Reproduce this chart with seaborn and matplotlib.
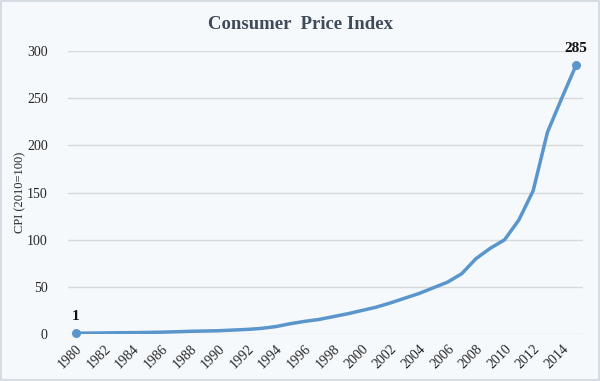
import numpy as np
import pandas as pd
import matplotlib
matplotlib.use("Agg")
import matplotlib.pyplot as plt
import seaborn as sns
from matplotlib.patches import Rectangle

## data
years = list(range(1980, 2016))
cpi = [1, 1.1, 1.3, 1.5, 1.6, 1.8, 2.1, 2.5, 3.0, 3.3,
       3.6, 4.3, 5.0, 6.1, 8.0, 11, 13.5, 15.5, 18.5, 21.5,
       25, 28.5, 33, 38, 43, 49, 55, 64, 80, 91,
       100, 121, 152, 214, 250, 285]
end_labels = ["1", "285"]
tick_years = list(range(1980, 2015, 2))
title = "Consumer  Price Index"
ylabel = "CPI (2010=100)"

df = pd.DataFrame({"year": years, "cpi": cpi})

# style
sns.set_theme(style="white")
plt.rcParams["font.family"] = ["Liberation Serif", "DejaVu Serif"]
bg = "#f5f9fc"
line_color = "#5a96cc"
grid_color = "#d9d9d9"
text_color = "#262626"

fig = plt.figure(figsize=(6, 3.81), dpi=100, facecolor=bg)
ax = fig.add_axes([0.113, 0.123, 0.859, 0.743])
ax.set_facecolor(bg)

sns.lineplot(data=df, x="year", y="cpi", ax=ax, color=line_color, linewidth=2.5)

# markers + labels on the first and last points
ends = df.iloc[[0, -1]]
ax.scatter(ends["year"], ends["cpi"], s=30, color=line_color, zorder=3, clip_on=False)
for (_, row), lab in zip(ends.iterrows(), end_labels):
    ax.annotate(lab, (row["year"], row["cpi"]), xytext=(0, 7), textcoords="offset points",
                ha="center", va="bottom", fontsize=11, fontweight="bold", color="#111111")

ax.set_xlim(1979.45, 2015.5)
ax.set_ylim(0, 300)
ax.set_yticks(range(0, 301, 50))
ax.set_xticks(tick_years)
ax.set_xticklabels([str(y) for y in tick_years], rotation=45, ha="right",
                   rotation_mode="anchor", fontsize=10, color=text_color)
ax.tick_params(axis="both", length=0)
ax.tick_params(axis="y", labelsize=10, labelcolor=text_color, pad=14.5)
ax.tick_params(axis="x", pad=6)
ax.yaxis.grid(True, color=grid_color, linewidth=1)
ax.set_axisbelow(True)
for s in ax.spines.values():
    s.set_visible(False)

ax.set_xlabel("")
ax.set_ylabel(ylabel, fontsize=9, color=text_color)
ax.yaxis.set_label_coords(-0.08, 0.5)

fig.text(0.5, 0.937, title, ha="center", va="center", fontsize=13.5,
         fontweight="bold", color="#404b5a")

# light frame around the chart
fig.patches.append(Rectangle((0.002, 0.003), 0.996, 0.994, transform=fig.transFigure,
                             fill=False, edgecolor="#d0d7de", linewidth=1.2))

fig.savefig("out.png", dpi=100, facecolor=bg)
